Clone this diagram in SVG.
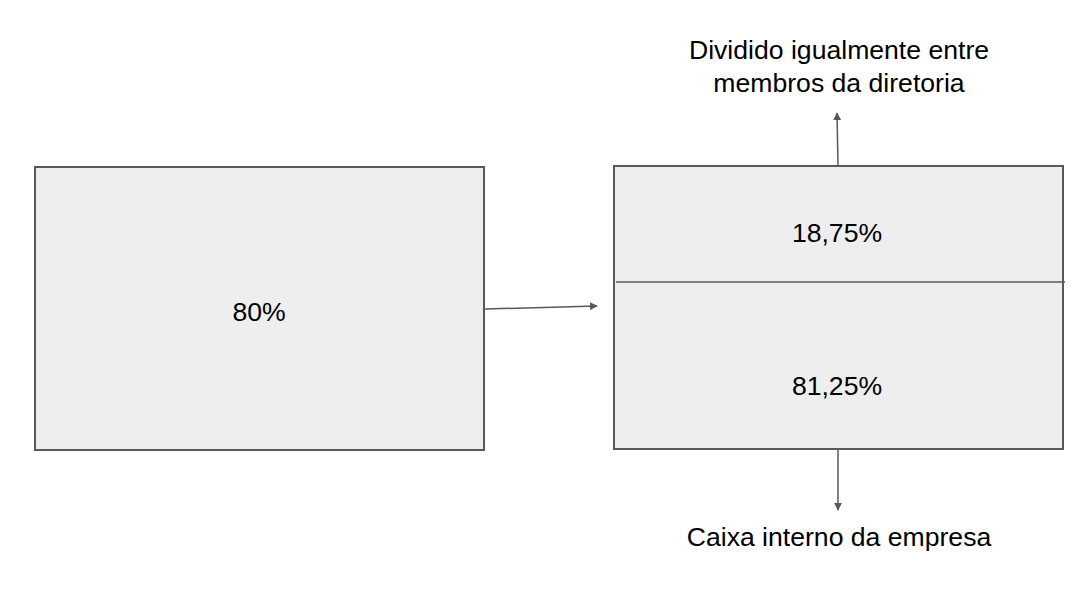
<svg xmlns="http://www.w3.org/2000/svg" width="1092" height="598" viewBox="0 0 1092 598">
<style>
.box{fill:#eeeeee;stroke:#595959;stroke-width:2}
.ln{stroke:#595959;stroke-width:1.5;fill:none}
text{font-family:"Liberation Sans",Arial,sans-serif;font-size:26.6px;fill:#000;text-anchor:middle}
</style>
<defs>
<marker id="ah" viewBox="0 0 10 10" refX="9" refY="5" markerWidth="8" markerHeight="8" markerUnits="userSpaceOnUse" orient="auto">
<path d="M0,0 L10,5 L0,10 z" fill="#595959"/>
</marker>
</defs>
<rect width="1092" height="598" fill="#ffffff"/>
<g id="left">
<rect class="box" x="35" y="167" width="449" height="283"/>
<text x="259" y="321">80%</text>
</g>
<g id="right">
<rect class="box" x="614" y="166" width="449" height="283"/>
<line class="ln" x1="616" y1="282" x2="1065" y2="282"/>
<text x="837" y="242">18,75%</text>
<text x="837" y="395">81,25%</text>
</g>
<g id="top-label">
<text x="839" y="59">Dividido igualmente entre</text>
<text x="839" y="92">membros da diretoria</text>
</g>
<g id="bottom-label">
<text x="839" y="546">Caixa interno da empresa</text>
</g>
<g id="connectors">
<line class="ln" x1="485" y1="309" x2="597" y2="306" marker-end="url(#ah)"/>
<line class="ln" x1="838" y1="165" x2="837" y2="113" marker-end="url(#ah)"/>
<line class="ln" x1="838" y1="450" x2="838" y2="510" marker-end="url(#ah)"/>
</g>
</svg>
